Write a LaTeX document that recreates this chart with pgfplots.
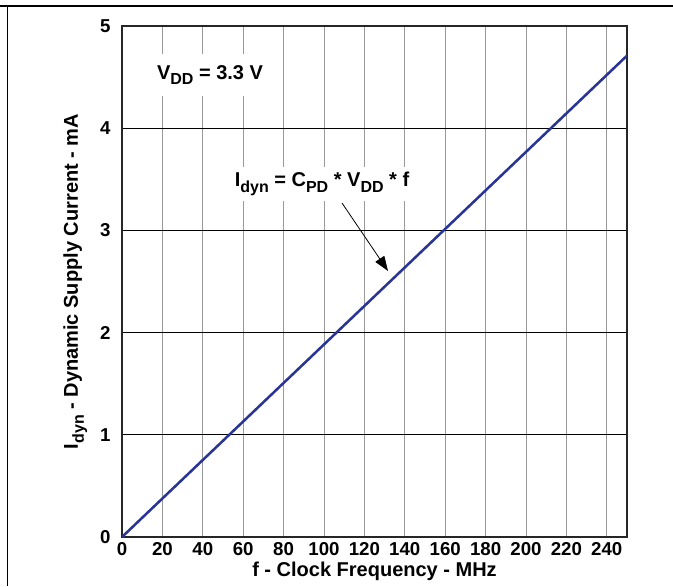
\documentclass[border=0pt]{standalone}
\usepackage{pgfplots}
\pgfplotsset{compat=1.18}
\usetikzlibrary{arrows.meta}
\usepackage{fontspec}
\setmainfont{Liberation Sans}
\definecolor{lineblue}{RGB}{40,52,150}
\newcommand\sub[1]{\raisebox{-0.55ex}{\fontsize{12}{14}\selectfont #1}}
\begin{document}
\begin{tikzpicture}[x=0.75pt,y=0.75pt]
\path[use as bounding box] (0,0) rectangle (673,586);
\draw[line width=0.9pt] (0,580) -- (673,580);
\draw[line width=0.9pt] (7.5,580) -- (7.5,0);
\begin{axis}[
  at={(91.5pt,36.75pt)}, anchor=south west,
  scale only axis, width=378.75pt, height=383.25pt,
  xmin=0, xmax=250, ymin=0, ymax=5,
  xtick={0,20,...,240}, ytick={0,1,...,5},
  tick style={draw=none},
  axis line style={line width=1.6pt, black!85},
  grid=major,
  x grid style={line width=0.6pt, gray!80},
  y grid style={line width=0.9pt, black},
  /pgf/number format/assume math mode=true,
  ticklabel style={font=\fontsize{14}{16}\selectfont\bfseries},
  xticklabel style={yshift=-0.5pt},
  yticklabel style={xshift=-5pt},
  xlabel={f - Clock Frequency - MHz},
  ylabel={I\sub{dyn} - Dynamic Supply Current - mA},
  label style={font=\fontsize{15}{17}\selectfont\bfseries},
  xlabel style={yshift=2pt},
  ylabel style={yshift=3pt},
  clip=true,
]
\addplot[lineblue, line width=1.9pt] coordinates {(0,0) (250,4.71)};
\end{axis}
\node[fill=white, inner xsep=6pt, inner ysep=8pt, font=\fontsize{15}{17}\selectfont\bfseries] at (210,511) {V\sub{DD} = 3.3 V};
\draw[line width=0.6pt, -{Triangle[length=11pt,width=8pt]}] (342,383) -- (388,315);
\node[fill=white, inner xsep=5pt, inner ysep=4pt, font=\fontsize{15}{17}\selectfont\bfseries] at (322,402) {I\sub{dyn} = C\sub{PD} * V\sub{DD} * f};
\end{tikzpicture}
\end{document}
